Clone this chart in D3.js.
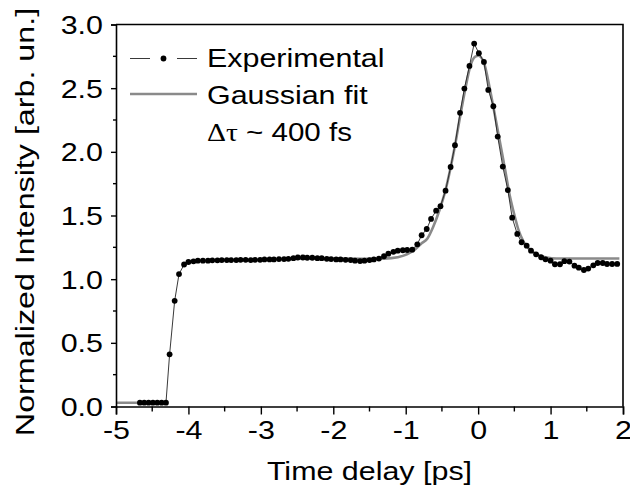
<!DOCTYPE html>
<html>
<head>
<meta charset="utf-8">
<script src="https://cdn.jsdelivr.net/npm/d3@7"></script>
<style>
  body { margin: 0; background: #fff; }
  svg { display: block; }
  text { font-family: "Liberation Sans", Arial, sans-serif; fill: #000; }
</style>
</head>
<body>
<script>
// experimental points (ps, arb. un.)
const expTime = [
  -4.67, -4.61, -4.55, -4.49, -4.43, -4.37, -4.31,
  -4.26, -4.19, -4.13, -4.06, -4.00, -3.93, -3.87, -3.80, -3.73, -3.67,
  -3.60, -3.54, -3.47, -3.41, -3.34, -3.28, -3.21, -3.14, -3.08, -3.01,
  -2.95, -2.88, -2.82, -2.75, -2.68, -2.62, -2.55, -2.49, -2.42, -2.36,
  -2.29, -2.22, -2.16, -2.09, -2.03, -1.96, -1.90, -1.83, -1.76, -1.70,
  -1.63, -1.57, -1.50, -1.44, -1.37, -1.30, -1.24, -1.17, -1.11, -1.04,
  -0.98, -0.91, -0.84, -0.78, -0.71, -0.65, -0.58, -0.52, -0.45, -0.38,
  -0.32, -0.25, -0.19, -0.12, -0.055, 0.01, 0.08, 0.14, 0.21, 0.27,
  0.34, 0.41, 0.47, 0.54, 0.60, 0.67, 0.73, 0.80, 0.87, 0.93,
  1.00, 1.06, 1.13, 1.19, 1.26, 1.33, 1.39, 1.46, 1.52, 1.59,
  1.65, 1.72, 1.78, 1.85, 1.92
];
const expValue = [
  0.03, 0.03, 0.03, 0.03, 0.03, 0.03, 0.03,
  0.41, 0.83, 1.04, 1.115, 1.135, 1.14, 1.145, 1.145, 1.145, 1.148,
  1.148, 1.15, 1.15, 1.15, 1.15, 1.152, 1.152, 1.15, 1.152, 1.152,
  1.155, 1.155, 1.155, 1.158, 1.158, 1.16, 1.165, 1.17, 1.17, 1.168,
  1.168, 1.165, 1.165, 1.16, 1.158, 1.155, 1.155, 1.152, 1.15, 1.145,
  1.142, 1.145, 1.15, 1.155, 1.162, 1.18, 1.20, 1.215, 1.224, 1.227,
  1.229, 1.232, 1.274, 1.345, 1.394, 1.473, 1.538, 1.573, 1.695, 1.881,
  2.052, 2.306, 2.497, 2.675, 2.85, 2.775, 2.706, 2.486, 2.358, 2.12,
  1.884, 1.70, 1.483, 1.355, 1.29, 1.263, 1.224, 1.195, 1.172, 1.156,
  1.145, 1.117, 1.117, 1.141, 1.138, 1.106, 1.09, 1.072, 1.083, 1.109,
  1.127, 1.127, 1.119, 1.119, 1.12
];

// gaussian fit (NaN = gap)
const fitTime = [
  -5, -4.70, NaN,
  -2.60, -2.0, -1.6, -1.4, -1.2, -1.03, -0.89, -0.78, -0.70, -0.62, -0.525,
  -0.456, -0.387, -0.318, -0.249, -0.18, -0.11, -0.04, 0.005, 0.08, 0.16,
  0.235, 0.304, 0.373, 0.43, 0.50, 0.557, 0.626, 0.718, 0.833, 0.949,
  1.08, 1.95
];
const fitValue = [
  0.03, 0.03, NaN,
  1.162, 1.162, 1.16, 1.16, 1.165, 1.185, 1.225, 1.282, 1.32, 1.412, 1.557,
  1.687, 1.858, 2.054, 2.277, 2.486, 2.67, 2.748, 2.755, 2.70, 2.50,
  2.277, 2.068, 1.858, 1.675, 1.505, 1.387, 1.295, 1.229, 1.19, 1.169,
  1.162, 1.162
];

const xTicks = [-5, -4, -3, -2, -1, 0, 1, 2];
const yTicks = [0, 0.5, 1.0, 1.5, 2.0, 2.5, 3.0];
const legendLabels = ['Experimental', 'Gaussian fit'];

const width = 630, height = 488;
const margin = { top: 24.5, right: 7, bottom: 81.5, left: 116 };
const fontSize = 26;
const stretch = 1.17;

const x = d3.scaleLinear()
  .domain([-5, 2])
  .range([margin.left, width - margin.right]);

const y = d3.scaleLinear()
  .domain([0, 3])
  .range([height - margin.bottom, margin.top]);

const svg = d3.create('svg')
  .attr('width', width)
  .attr('height', height);

document.body.appendChild(svg.node());

// wide Arial look of the original
function widen(sel, k) {
  sel.each(function() {
    const len = this.getComputedTextLength();
    d3.select(this)
      .attr('textLength', len * (k || stretch))
      .attr('lengthAdjust', 'spacingAndGlyphs');
  });
}

const expData = expTime.map((t, i) => ({ t, v: expValue[i] }));
const fitData = fitTime.map((t, i) => ({ t, v: fitValue[i] }));

// gaussian fit
svg.append('path')
  .datum(fitData)
  .attr('fill', 'none')
  .attr('stroke', '#8a8a8a')
  .attr('stroke-width', 2.6)
  .attr('d', d3.line()
    .defined(d => !isNaN(d.v))
    .curve(d3.curveMonotoneX)
    .x(d => x(d.t))
    .y(d => y(d.v)));

// experimental
svg.append('path')
  .datum(expData)
  .attr('fill', 'none')
  .attr('stroke', '#222')
  .attr('stroke-width', 0.9)
  .attr('d', d3.line()
    .x(d => x(d.t))
    .y(d => y(d.v)));

svg.append('g')
  .selectAll('circle')
  .data(expData)
  .join('circle')
  .attr('cx', d => x(d.t))
  .attr('cy', d => y(d.v))
  .attr('r', 2.9)
  .attr('fill', '#000');

// axes
const xMinor = d3.range(-4.5, 2, 1);
const yMinor = d3.range(0.25, 3, 0.5);

const x_axis = d3.axisBottom(x)
  .tickValues(xTicks)
  .tickFormat(d3.format('d'))
  .tickSize(8)
  .tickPadding(4);

const y_axis = d3.axisLeft(y)
  .tickValues(yTicks)
  .tickFormat(d3.format('.1f'))
  .tickSize(5)
  .tickPadding(8);

const gx = svg.append('g')
  .attr('transform', `translate(0,${y(0)})`)
  .call(x_axis);

gx.append('g')
  .selectAll('line')
  .data(xMinor)
  .join('line')
  .attr('x1', d => x(d)).attr('x2', d => x(d))
  .attr('y1', 0).attr('y2', 5)
  .attr('stroke', '#000')
  .attr('stroke-width', 1.4);

const gy = svg.append('g')
  .attr('transform', `translate(${x(-5)},0)`)
  .call(y_axis);

gy.append('g')
  .selectAll('line')
  .data(yMinor)
  .join('line')
  .attr('y1', d => y(d)).attr('y2', d => y(d))
  .attr('x1', 0).attr('x2', -3)
  .attr('stroke', '#000')
  .attr('stroke-width', 1.4);

[gx, gy].forEach(g => {
  g.select('.domain').attr('stroke', '#000').attr('stroke-width', 1.6);
  g.selectAll('.tick line').attr('stroke', '#000').attr('stroke-width', 1.4);
  g.selectAll('.tick text')
    .attr('font-size', fontSize)
    .attr('font-family', '"Liberation Sans", Arial, sans-serif')
    .attr('fill', '#000');
});
gx.selectAll('.tick text').text(d => d < 0 ? '-' + Math.abs(d) : d).attr('dy', '0.8em');
gy.selectAll('.tick text').attr('dy', '0.35em');
gx.selectAll('.tick text').call(widen);
gy.selectAll('.tick text').call(widen);

// top and right frame
svg.append('path')
  .attr('fill', 'none')
  .attr('stroke', '#000')
  .attr('stroke-width', 1.6)
  .attr('d', `M${x(-5)},${y(3)}H${x(2)}V${y(0)}`);

// axis titles
svg.append('text')
  .attr('x', (x(-5) + x(2)) / 2)
  .attr('y', 480)
  .attr('text-anchor', 'middle')
  .attr('font-size', fontSize)
  .text('Time delay [ps]')
  .call(widen);

svg.append('text')
  .attr('transform', 'translate(34,222) rotate(-90)')
  .attr('text-anchor', 'middle')
  .attr('font-size', fontSize)
  .text('Normalized Intensity [arb. un.]')
  .call(widen, 1.24);

// legend
const lg = svg.append('g');
lg.append('line')
  .attr('x1', 130).attr('x2', 150).attr('y1', 58.5).attr('y2', 58.5)
  .attr('stroke', '#222').attr('stroke-width', 0.9);
lg.append('line')
  .attr('x1', 177).attr('x2', 197).attr('y1', 58.5).attr('y2', 58.5)
  .attr('stroke', '#222').attr('stroke-width', 0.9);
lg.append('circle')
  .attr('cx', 163.5).attr('cy', 58.5).attr('r', 2.9).attr('fill', '#000');
lg.append('line')
  .attr('x1', 130).attr('x2', 197).attr('y1', 94).attr('y2', 94)
  .attr('stroke', '#8a8a8a').attr('stroke-width', 2.6);

lg.selectAll('text.label')
  .data(legendLabels)
  .join('text')
  .attr('class', 'label')
  .attr('x', 207)
  .attr('y', (d, i) => 67 + i * 36.5)
  .attr('font-size', fontSize)
  .text(d => d)
  .call(widen);

const dt = lg.append('text')
  .attr('x', 207)
  .attr('y', 140.5)
  .attr('font-size', fontSize);
dt.append('tspan')
  .attr('font-family', '"Liberation Serif", "DejaVu Serif", serif')
  .text('\u0394\u03c4');
dt.append('tspan').text(' ~ 400 fs');
dt.attr('textLength', 145).attr('lengthAdjust', 'spacingAndGlyphs');
</script>
</body>
</html>
